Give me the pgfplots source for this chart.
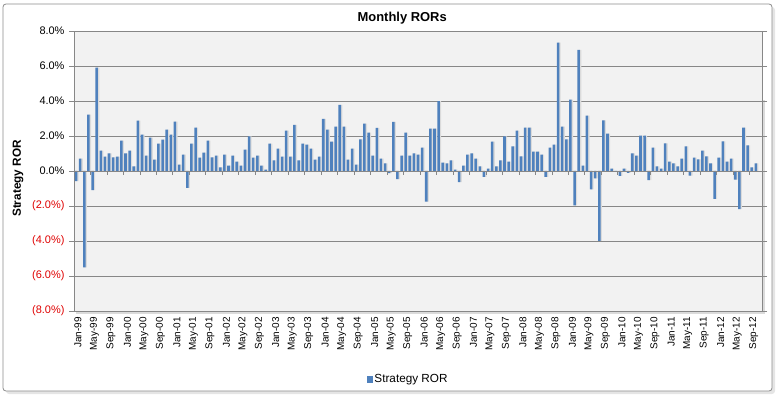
\documentclass[border=0pt]{standalone}
\usepackage{pgfplots}
\pgfplotsset{compat=1.18}
\usepackage{pgfplotstable}
\usepackage{fontspec}
\setmainfont{Liberation Sans}
\definecolor{barblue}{HTML}{4F81BD}
\definecolor{plotbg}{HTML}{F2F2F2}
\definecolor{gridgray}{HTML}{878787}
\definecolor{framegray}{HTML}{8C8C8C}
\definecolor{negred}{HTML}{E00000}

\pgfplotstableread{
x y
0 -0.58
1 0.70
2 -5.50
3 3.22
4 -1.10
5 5.90
6 1.16
7 0.82
8 1.00
9 0.78
10 0.82
11 1.73
12 1.00
13 1.16
14 0.27
15 2.88
16 2.08
17 0.88
18 1.90
19 0.65
20 1.56
21 1.79
22 2.36
23 2.08
24 2.82
25 0.36
26 0.93
27 -0.97
28 1.56
29 2.48
30 0.76
31 1.05
32 1.73
33 0.78
34 0.88
35 0.20
36 0.94
37 0.31
38 0.88
39 0.54
40 0.31
41 1.22
42 1.98
43 0.77
44 0.88
45 0.31
46 0.08
47 1.56
48 0.60
49 1.28
50 0.82
51 2.30
52 0.82
53 2.64
54 0.60
55 1.56
56 1.50
57 1.28
58 0.65
59 0.82
60 2.98
61 2.36
62 1.68
63 2.53
64 3.78
65 2.53
66 0.65
67 1.28
68 0.36
69 1.80
70 2.70
71 2.19
72 0.88
73 2.47
74 0.71
75 0.43
76 -0.12
77 2.81
78 -0.46
79 0.88
80 2.19
81 0.88
82 1.00
83 0.94
84 1.34
85 -1.75
86 2.42
87 2.42
88 3.99
89 0.48
90 0.43
91 0.60
92 0.08
93 -0.64
94 0.31
95 0.94
96 1.00
97 0.71
98 0.26
99 -0.34
100 0.13
101 1.68
102 0.26
103 0.60
104 1.98
105 0.54
106 1.40
107 2.30
108 0.83
109 2.48
110 2.48
111 1.10
112 1.10
113 0.94
114 -0.34
115 1.34
116 1.50
117 7.34
118 2.54
119 1.80
120 4.08
121 -1.96
122 6.92
123 0.31
124 3.17
125 -1.05
126 -0.42
127 -3.99
128 2.89
129 2.14
130 0.13
131 0.00
132 -0.28
133 0.13
134 -0.11
135 1.00
136 0.88
137 2.02
138 2.02
139 -0.52
140 1.34
141 0.26
142 0.14
143 1.58
144 0.54
145 0.43
146 0.26
147 0.71
148 1.40
149 -0.27
150 0.77
151 0.66
152 1.17
153 0.83
154 0.43
155 -1.60
156 0.77
157 1.69
158 0.54
159 0.71
160 -0.50
161 -2.18
162 2.48
163 1.46
164 0.20
165 0.43
}\rordata

\begin{document}
\begin{tikzpicture}[x=1bp,y=1bp]
\path[use as bounding box] (0,0) rectangle (782,398);
\fill[black!10, rounded corners=3] (6,4) rectangle (775,391);
\filldraw[fill=white, draw=framegray, line width=0.8bp, rounded corners=3] (3,7) rectangle (772,394);
% plot area shadow
\fill[black!14] (76,84.5) rectangle (765,298);
\begin{axis}[
  at={(74bp,87bp)}, anchor=south west,
  scale only axis, width=688bp, height=280bp,
  xmin=-0.5, xmax=166.5, ymin=-8, ymax=8,
  axis background/.style={fill=plotbg},
  axis line style={draw=gridgray, line width=0.8bp},
  ytick={-8,-6,...,8},
  yticklabels={\textcolor{negred}{(8.0\%)},\textcolor{negred}{(6.0\%)},\textcolor{negred}{(4.0\%)},\textcolor{negred}{(2.0\%)},0.0\%,2.0\%,4.0\%,6.0\%,8.0\%},
  ymajorgrids, grid style={draw=gridgray, line width=0.8bp},
  xtick={0,4,...,164},
  xticklabels={Jan-99,May-99,Sep-99,Jan-00,May-00,Sep-00,Jan-01,May-01,Sep-01,Jan-02,May-02,Sep-02,Jan-03,May-03,Sep-03,Jan-04,May-04,Sep-04,Jan-05,May-05,Sep-05,Jan-06,May-06,Sep-06,Jan-07,May-07,Sep-07,Jan-08,May-08,Sep-08,Jan-09,May-09,Sep-09,Jan-10,May-10,Sep-10,Jan-11,May-11,Sep-11,Jan-12,May-12,Sep-12},
  xtick style={draw=none},
  ytick style={draw=gridgray, line width=0.8bp},
  tick align=outside, major tick length=5bp,
  y tick label style={font=\fontsize{11}{13}\selectfont, xshift=-1bp},
  x tick label style={font=\fontsize{10}{12}\selectfont, xshift=2bp, rotate=90, anchor=east, inner sep=1bp},
  /pgf/number format/assume math mode=true,
  title={Monthly RORs},
  title style={at={(axis description cs:0.477,1.025)}, anchor=center, font=\bfseries\fontsize{13}{15}\selectfont},
  ylabel={Strategy ROR},
  ylabel style={at={(axis description cs:-0.0814,0.473)}, anchor=center, font=\bfseries\fontsize{11.8}{13}\selectfont},
  legend style={at={(axis description cs:0.4855,-0.243)}, anchor=center, draw=none, fill=none, font=\fontsize{11.8}{13}\selectfont, inner sep=0pt, nodes={inner sep=1bp}},
  clip=false,
]
\addplot[ybar, bar width=0.62, bar shift=0.32, fill=black!14, draw=none, forget plot] table[x=x,y=y] {\rordata};
\addplot[ybar, bar width=0.62, bar shift=0pt, fill=barblue, draw=none,
  legend image code/.code={\fill[barblue] (0bp,-3.5bp) rectangle (6bp,3.5bp);}] table[x=x,y=y] {\rordata};
\legend{Strategy ROR}
\draw[gridgray, line width=0.8bp] (axis cs:-0.5,0) -- (axis cs:166.5,0);
\pgfplotsinvokeforeach{3.5,7.5,...,163.5}{\draw[gridgray, line width=0.8bp] (axis cs:#1,0) -- ([yshift=-4bp]axis cs:#1,0);}
\end{axis}
\end{tikzpicture}
\end{document}
